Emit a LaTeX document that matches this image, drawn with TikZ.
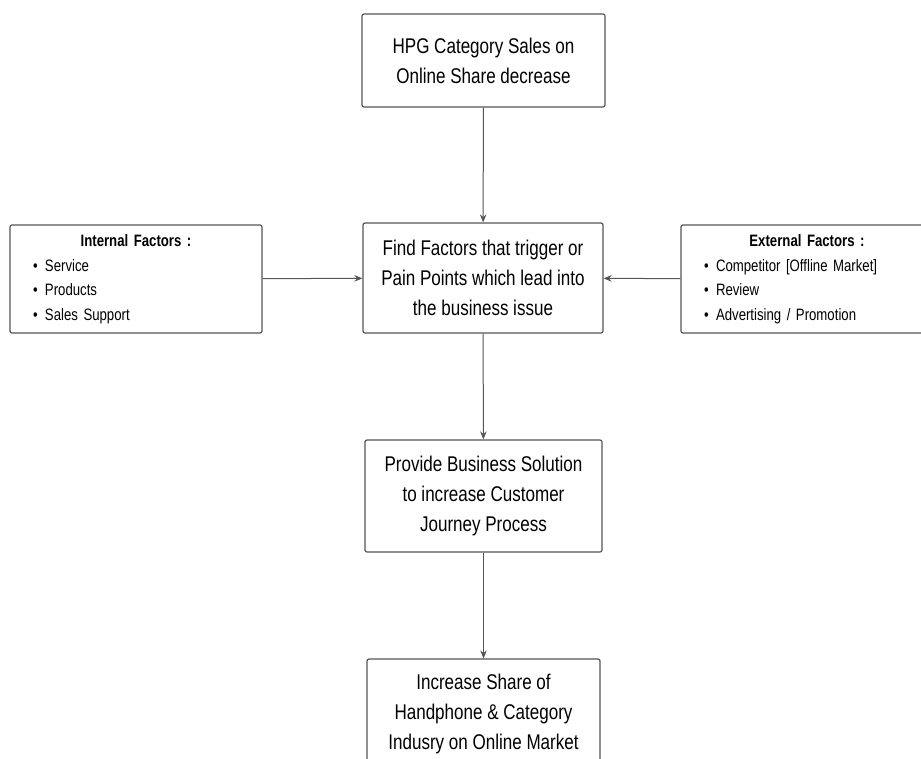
\documentclass[tikz,border=0pt]{standalone}
\usepackage{fontspec}
\setmainfont{Liberation Sans}[FakeStretch=0.8]
\usetikzlibrary{arrows.meta}
\definecolor{boxline}{HTML}{555555}
\newcommand{\flowfont}{\fontsize{21.3}{30}\selectfont\spaceskip=0.22em\relax}
\newcommand{\sidefont}{\fontsize{16.5}{24.5}\selectfont\spaceskip=0.2em\relax}
\tikzset{
 flowbox/.style={draw=boxline,line width=1.2pt,rounded corners=2pt,align=center,
  font=\flowfont,inner sep=0pt},
 sidebox/.style={draw=boxline,line width=1.2pt,rounded corners=2pt,align=left,
  minimum width=252pt,minimum height=108pt,text width=206pt,inner sep=0pt,
  font=\sidefont},
 flowarrow/.style={draw=boxline,line width=1pt,-{Stealth[length=8pt,width=6.5pt]}}
}
\newcommand{\bpoint}{\makebox[12pt][l]{\textbullet}}
\begin{document}
\begin{tikzpicture}[x=1pt,y=-1pt]
 \useasboundingbox (0,0) rectangle (921,758);
 \clip (0,0) rectangle (921,758);
 \node[flowbox,minimum width=243pt,minimum height=93pt] (sales) at (483.5,60.5)
  {HPG Category Sales on\\Online Share decrease};
 \node[flowbox,minimum width=240pt,minimum height=110pt] (factors) at (483,278)
  {Find Factors that trigger or\\Pain Points which lead into\\the business issue};
 \node[flowbox,minimum width=237pt,minimum height=112pt] (solution) at (483.5,496)
  {Provide Business Solution\\to increase Customer\\Journey Process};
 \node[flowbox,minimum width=233pt,minimum height=110pt] (share) at (483.5,714)
  {Increase Share of\\Handphone \& Category\\Indusry on Online Market};
 \node[sidebox] (internal) at (136,279)
  {\makebox[\linewidth]{\textbf{Internal Factors :}}\\
   \bpoint Service\\ \bpoint Products\\ \bpoint Sales Support};
 \node[sidebox] (external) at (807,279)
  {\makebox[\linewidth]{\textbf{External Factors :}}\\
   \bpoint Competitor [Offline Market]\\ \bpoint Review\\ \bpoint Advertising / Promotion};
 \draw[flowarrow] (sales) -- (factors);
 \draw[flowarrow] (internal) -- (factors);
 \draw[flowarrow] (external) -- (factors);
 \draw[flowarrow] (factors) -- (solution);
 \draw[flowarrow] (solution) -- (share);
\end{tikzpicture}
\end{document}
